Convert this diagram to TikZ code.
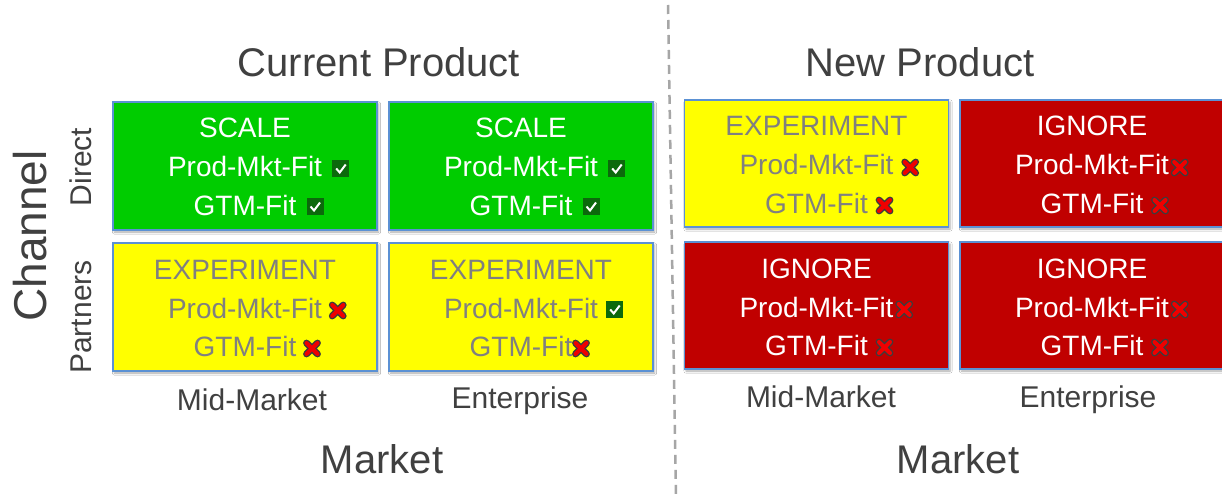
\documentclass[tikz,border=0pt]{standalone}
\usepackage{fontspec}
\setmainfont{Liberation Sans}
\usetikzlibrary{shadows.blur}
\definecolor{cgreen}{RGB}{0,204,0}
\definecolor{cyellow}{RGB}{255,255,0}
\definecolor{cred}{RGB}{192,0,0}
\definecolor{cborder}{RGB}{91,145,212}
\definecolor{txtgrey}{RGB}{128,128,128}
\definecolor{labgrey}{RGB}{64,64,64}
\definecolor{chkgreen}{RGB}{12,105,12}
\definecolor{xred}{RGB}{240,0,0}
\definecolor{xedge}{RGB}{60,60,60}
\definecolor{dashgrey}{RGB}{166,166,166}
\newcommand{\quadcell}[7]{%
  \node[ctext, text=#3] (#1-h) at ([yshift=-36pt]#1.north) {#2};
  \node[ctext, text=#3] (#1-p) at ([yshift=-75pt]#1.north) {Prod-Mkt-Fit};
  \node[ctext, text=#3] (#1-g) at ([yshift=-113pt]#1.north) {GTM-Fit};
  \path (#1-p.base east) ++(#5,0) pic {#4};
  \path (#1-g.base east) ++(#7,0) pic {#6};
}
\begin{document}
\begin{tikzpicture}[x=1pt,y=-1pt,
  cell/.style={draw=cborder, line width=1.8pt, minimum width=264pt, minimum height=128pt,
    inner sep=0pt, outer sep=0pt,
    blur shadow={shadow xshift=1.5pt, shadow yshift=-2pt, shadow opacity=35, shadow blur steps=4}},
  ctext/.style={font=\fontsize{28}{30}\selectfont, inner sep=0pt, anchor=base},
  title/.style={font=\fontsize{40}{44}\selectfont, text=labgrey, inner sep=0pt, anchor=base},
  axlabel/.style={font=\fontsize{30}{34}\selectfont, text=labgrey, inner sep=0pt, anchor=base},
  chk/.pic={\fill[chkgreen] (0,-17) rectangle (17,0);
    \draw[white, line width=2pt] (4,-8.5) -- (7.5,-4.5) -- (13.5,-12.5);},
  xmk/.pic={\draw[xedge, line width=6.8pt, line cap=round] (3,-2) -- (14,-13) (3,-13) -- (14,-2);
    \draw[xred, line width=4pt, line cap=round] (3,-2) -- (14,-13) (3,-13) -- (14,-2);},
]
\fill[white] (0,0) rectangle (1222,497);
\useasboundingbox (0,0) rectangle (1222,497);

% divider
\coordinate (dtop) at (668,5);
\coordinate (dbot) at (676,497);
\draw[dashgrey, line width=2.5pt, dash pattern=on 9pt off 6pt] (dtop) -- (dbot);

% titles
\node[title] (cp) at (379,77) {Current Product};
\node[title] (np) at (920,77) {New Product};
\node[title] (mk1) at (382,473) {Market};
\node[title] (mk2) at (958,473) {Market};

% axis labels
\node[axlabel] (mm1) at (252,410) {Mid-Market};
\node[axlabel] (ent1) at (520,408) {Enterprise};
\node[axlabel] (mm2) at (821,407) {Mid-Market};
\node[axlabel] (ent2) at (1088,407) {Enterprise};
\node[axlabel, rotate=90] (dir) at (91,167) {Direct};
\node[axlabel, rotate=90] (par) at (91,317) {Partners};
\node[title, font=\fontsize{46}{50}\selectfont, rotate=90] (chn) at (46,236) {Channel};

% cells
\node[cell, fill=cgreen] (c11) at (245,166) {};
\node[cell, fill=cgreen] (c12) at (521,166) {};
\node[cell, fill=cyellow] (c21) at (245,307) {};
\node[cell, fill=cyellow] (c22) at (521,307) {};
\node[cell, fill=cyellow, minimum height=127pt] (r11) at (816.5,163.5) {};
\node[cell, fill=cred, minimum height=127pt] (r12) at (1092,163.5) {};
\node[cell, fill=cred, minimum height=127pt] (r21) at (816.5,305.5) {};
\node[cell, fill=cred, minimum height=127pt] (r22) at (1092,305.5) {};

\quadcell{c11}{SCALE}{white}{chk}{10}{chk}{10}
\quadcell{c12}{SCALE}{white}{chk}{10}{chk}{10}
\quadcell{c21}{EXPERIMENT}{txtgrey}{xmk}{7}{xmk}{7}
\quadcell{c22}{EXPERIMENT}{txtgrey}{chk}{8}{xmk}{0}
\quadcell{r11}{EXPERIMENT}{txtgrey}{xmk}{8}{xmk}{8}
\quadcell{r12}{IGNORE}{white}{xmk}{2}{xmk}{8}
\quadcell{r21}{IGNORE}{white}{xmk}{2}{xmk}{8}
\quadcell{r22}{IGNORE}{white}{xmk}{2}{xmk}{8}
\end{tikzpicture}
\end{document}
